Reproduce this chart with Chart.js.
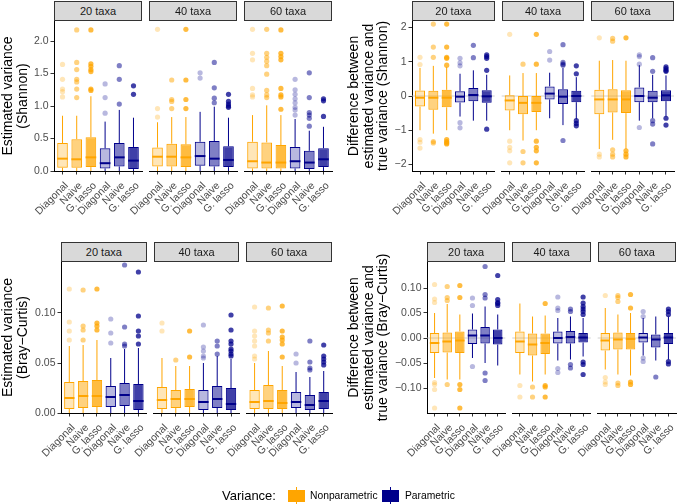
<!DOCTYPE html>
<html>
<head>
<meta charset="utf-8">
<script src="https://cdn.jsdelivr.net/npm/chart.js@4.4.1/dist/chart.umd.min.js"></script>
<style>
  html, body { margin: 0; padding: 0; background: #fff; }
  body { position: relative; width: 678px; height: 504px; overflow: hidden; font-family: 'Liberation Sans', Arial, Helvetica, sans-serif; }
  canvas { position: absolute; }
  .strip { position: absolute; box-sizing: border-box; height: 20px; background: #d9d9d9; border: 1px solid #333; color: #1a1a1a; font-size: 11px; line-height: 18px; text-align: center; z-index: 2; }
  .legend { position: absolute; top: 487px; height: 18px; line-height: 18px; color: #000; white-space: nowrap; }
  .key { position: absolute; top: 487px; width: 17px; height: 18px; }
  .key .wh { position: absolute; left: 8px; top: 0; width: 1px; height: 18px; }
  .key .bx { position: absolute; left: 0; top: 3px; width: 17px; height: 12px; }
</style>
</head>
<body>
<script>
(() => {
    'use strict';

    // ---- data: [lower whisker, Q1, median, Q3, upper whisker] per box,
    // boxes ordered Nonparametric Diagonal/Naive/G. lasso, then Parametric Diagonal/Naive/G. lasso
    const methods = ['Diagonal', 'Naive', 'G. lasso'];
    const varianceTypes = ['Nonparametric', 'Parametric'];
    const facetLabels = ['20 taxa', '40 taxa', '60 taxa'];

    const shanVarTicks = [0, 0.5, 1, 1.5, 2];
    const shanVarTickLabels = ['0.0', '0.5', '1.0', '1.5', '2.0'];
    const shanDiffTicks = [-2, -1, 0, 1, 2];
    const shanDiffTickLabels = ['\u22122', '\u22121', '0', '1', '2'];
    const bcVarTicks = [0, 0.05, 0.1];
    const bcVarTickLabels = ['0.00', '0.05', '0.10'];
    const bcDiffTicks = [-0.1, -0.05, 0, 0.05, 0.1];
    const bcDiffTickLabels = ['\u22120.10', '\u22120.05', '0.00', '0.05', '0.10'];

    const shanVar20 = [[0, 0.05, 0.19, 0.43, 0.85], [0, 0.05, 0.18, 0.49, 0.85], [0, 0.06, 0.21, 0.52, 1.15], [0, 0.04, 0.12, 0.35, 0.76], [0, 0.07, 0.21, 0.43, 0.94], [0, 0.03, 0.16, 0.37, 0.82]];
    const shanVar20Out = [[1.64, 1.41, 1.26, 1.22, 1.14], [2.17, 1.67, 1.56, 1.41, 1.37, 1.26, 1.13], [2.17, 1.65, 1.61, 1.56, 1.53, 1.26, 1.24], [1.34, 1.13, 0.89], [1.62, 1.41, 1.03], [1.31, 1.18]];
    const shanVar40 = [[0, 0.07, 0.22, 0.36, 0.75], [0, 0.07, 0.22, 0.42, 0.83], [0, 0.06, 0.21, 0.41, 0.83], [0, 0.08, 0.23, 0.45, 0.91], [0, 0.07, 0.19, 0.46, 0.99], [0, 0.06, 0.17, 0.38, 0.82]];
    const shanVar40Out = [[2.18, 0.96, 0.83], [1.40, 1.10, 1.07, 0.96], [2.18, 1.40, 1.10, 0.96], [1.51, 1.43], [1.67, 1.28, 1.12, 1.05], [1.18, 1.07, 1.03, 1.00, 0.98]];
    const shanVar60 = [[0, 0.04, 0.15, 0.45, 0.86], [0, 0.04, 0.13, 0.44, 1.01], [0, 0.04, 0.13, 0.40, 0.86], [0, 0.04, 0.15, 0.37, 0.80], [0, 0.03, 0.13, 0.31, 0.62], [0, 0.06, 0.18, 0.35, 0.68]];
    const shanVar60Out = [[2.18, 1.81, 1.71, 1.27, 1.17, 1.14], [2.18, 1.81, 1.75, 1.69, 1.62, 1.49, 1.24, 1.17, 1.13], [2.17, 1.81, 1.76, 1.71, 1.27, 1.17, 1.14, 0.95], [1.41, 1.25, 1.18, 1.11, 1.05, 0.98, 0.94, 0.86], [1.51, 1.13, 0.90, 0.86, 0.81, 0.69], [1.11, 1.08, 0.84]];

    const shanDiff20 = [[-1.00, -0.31, -0.05, 0.16, 0.82], [-1.10, -0.40, -0.05, 0.15, 0.88], [-1.00, -0.33, -0.05, 0.18, 0.85], [-0.60, -0.19, -0.02, 0.14, 0.65], [-0.72, -0.15, 0.03, 0.23, 0.75], [-0.72, -0.20, -0.01, 0.17, 0.62]];
    const shanDiff20Out = [[1.13, 0.92, -1.27, -1.35, -1.52], [2.10, 1.43, 1.13, -1.33, -1.37], [2.10, 1.43, 1.13, 1.10, 0.90, -1.27, -1.33, -1.37, -1.40], [1.10, 0.97, 0.88, -0.78, -0.93], [1.48, 1.12], [1.20, 1.15, 1.10, 0.75, -0.97]];
    const shanDiff40 = [[-1.00, -0.42, -0.13, 0.02, 0.60], [-1.30, -0.53, -0.20, 0.00, 0.67], [-1.00, -0.47, -0.20, 0.00, 0.67], [-0.65, -0.10, 0.07, 0.28, 0.68], [-0.85, -0.23, -0.02, 0.20, 0.82], [-0.68, -0.18, 0.00, 0.15, 0.55]];
    const shanDiff40Out = [[1.80, -1.32, -1.50, -1.60, -1.95], [0.93, -1.62, -1.95], [1.80, 0.93, -1.32, -1.50, -1.60, -1.95], [1.30, 1.05], [1.50, 0.98, 0.93, 0.90, -1.30], [0.88, 0.65, -0.72, -0.80, -0.87]];
    const shanDiff60 = [[-1.55, -0.53, -0.10, 0.18, 1.03], [-1.28, -0.48, -0.10, 0.20, 1.05], [-1.55, -0.50, -0.10, 0.17, 1.03], [-0.72, -0.18, 0.00, 0.25, 0.90], [-0.65, -0.18, -0.05, 0.15, 0.62], [-0.60, -0.15, 0.02, 0.17, 0.60]];
    const shanDiff60Out = [[1.70, -1.70, -1.78], [1.68, 1.60, -1.57, -1.70, -1.78], [1.70, -1.60, -1.70, -1.78], [1.20, 1.15, 0.93, -0.92], [1.12, 0.72, -0.72, -0.82, -1.40], [0.85, 0.80, 0.75, 0.72, -0.65, -0.85]];

    const bcVar20 = [[0, 0.004, 0.015, 0.031, 0.067], [0, 0.005, 0.017, 0.032, 0.068], [0, 0.006, 0.017, 0.033, 0.073], [0, 0.006, 0.016, 0.027, 0.055], [0, 0.007, 0.018, 0.030, 0.064], [0, 0.003, 0.012, 0.029, 0.065]];
    const bcVar20Out = [[0.124, 0.091, 0.082, 0.073], [0.123, 0.087, 0.083, 0.073], [0.124, 0.090, 0.087, 0.083], [0.094, 0.080, 0.070], [0.148, 0.086, 0.069, 0.067], [0.141, 0.097, 0.082, 0.077, 0.069]];
    const bcVar40 = [[0, 0.004, 0.013, 0.026, 0.055], [0, 0.005, 0.014, 0.023, 0.047], [0, 0.006, 0.014, 0.024, 0.047], [0, 0.003, 0.011, 0.023, 0.050], [0, 0.005, 0.014, 0.027, 0.057], [0, 0.003, 0.009, 0.025, 0.054]];
    const bcVar40Out = [[0.090, 0.082], [0.053], [0.082, 0.056], [0.088, 0.066, 0.062, 0.057, 0.055], [0.072, 0.067, 0.059], [0.098, 0.083, 0.072, 0.069, 0.064, 0.062, 0.059, 0.057]];
    const bcVar60 = [[0, 0.004, 0.011, 0.023, 0.050], [0, 0.004, 0.012, 0.028, 0.062], [0, 0.004, 0.010, 0.023, 0.047], [0, 0.005, 0.011, 0.021, 0.041], [0, 0.003, 0.008, 0.018, 0.036], [0, 0.004, 0.012, 0.021, 0.042]];
    const bcVar60Out = [[0.106, 0.082, 0.077, 0.072, 0.067, 0.057, 0.054], [0.105, 0.083, 0.080, 0.072], [0.107, 0.082, 0.076, 0.073, 0.069, 0.056], [0.059, 0.050], [0.072, 0.051, 0.045, 0.043], [0.068, 0.057, 0.054, 0.051, 0.048]];

    const bcDiff20 = [[-0.080, -0.030, -0.010, 0.010, 0.050], [-0.083, -0.029, -0.007, 0.011, 0.068], [-0.083, -0.030, -0.005, 0.013, 0.047], [-0.040, -0.012, 0.005, 0.017, 0.049], [-0.050, -0.011, 0.005, 0.022, 0.063], [-0.055, -0.013, 0.000, 0.017, 0.047]];
    const bcDiff20Out = [[0.107, 0.078, 0.071, -0.089, -0.093, -0.103, -0.140], [0.103, 0.081, 0.075, -0.093], [0.105, 0.081, -0.093, -0.103, -0.140], [0.080, 0.065, -0.057], [0.143, 0.087, 0.080, -0.070, -0.085], [0.125, 0.077, 0.071, 0.069, 0.065]];
    const bcDiff40 = [[-0.073, -0.030, -0.007, 0.013, 0.069], [-0.087, -0.035, -0.013, 0.009, 0.043], [-0.073, -0.032, -0.010, 0.009, 0.045], [-0.045, -0.011, 0.000, 0.013, 0.040], [-0.043, -0.011, 0.002, 0.014, 0.043], [-0.037, -0.009, 0.001, 0.010, 0.040]];
    const bcDiff40Out = [[-0.095, -0.118], [-0.098, -0.118], [0.069, -0.095, -0.098, -0.118], [0.082, 0.060, 0.055, -0.061, -0.069], [0.058, 0.053, -0.053, -0.060], [0.082, 0.070, 0.063, 0.058, 0.053, 0.047, -0.048, -0.053, -0.073]];
    const bcDiff60 = [[-0.063, -0.025, -0.005, 0.010, 0.060], [-0.073, -0.023, -0.003, 0.011, 0.047], [-0.075, -0.023, -0.002, 0.010, 0.050], [-0.035, -0.009, 0.001, 0.010, 0.040], [-0.045, -0.019, -0.003, 0.007, 0.043], [-0.043, -0.012, 0.001, 0.010, 0.043]];
    const bcDiff60Out = [[0.085, -0.079, -0.088, -0.093], [0.085, 0.081, 0.073, -0.090, -0.095], [0.087, 0.060, -0.088, -0.093], [0.053, 0.043, -0.040, -0.047], [-0.078], [0.058, 0.053, 0.047, -0.047, -0.052]];

    // ---- styling
    const FONT = "'Liberation Sans', Arial, Helvetica, sans-serif";
    const orange = [255, 165, 0];
    const navy = [0, 0, 139];
    const methodAlpha = [0.28, 0.5, 0.75];
    const boxLabels = methods.concat(methods);

    Chart.defaults.font.family = FONT;

    function rgba(c, a)
    {
        return `rgba(${c[0]},${c[1]},${c[2]},${a})`;
    }
    function boxColour(i, alpha)
    {
        return rgba(i < 3 ? orange : navy, alpha === undefined ? 1 : alpha);
    }

    // titleX: page x of the centre of the first title line
    const panels = [
        { stats: [shanVar20, shanVar40, shanVar60], outliers: [shanVar20Out, shanVar40Out, shanVar60Out], ticks: shanVarTicks, tickLabels: shanVarTickLabels,
          min: 0, max: 2.308, zero: false, title: ['Estimated variance', '(Shannon)'],
          left: 0, top: 21, bottom: 171, facets: [[54, 142], [149, 237], [244, 332]], titleX: 8.5 },
        { stats: [shanDiff20, shanDiff40, shanDiff60], outliers: [shanDiff20Out, shanDiff40Out, shanDiff60Out], ticks: shanDiffTicks, tickLabels: shanDiffTickLabels,
          min: -2.19, max: 2.19, zero: true, title: ['Difference between', 'estimated variance and', 'true variance (Shannon)'],
          left: 340, top: 21, bottom: 171, facets: [[412, 494.7], [501.7, 584.3], [591.3, 674]], titleX: 354 },
        { stats: [bcVar20, bcVar40, bcVar60], outliers: [bcVar20Out, bcVar40Out, bcVar60Out], ticks: bcVarTicks, tickLabels: bcVarTickLabels,
          min: 0, max: 0.151, zero: false, title: ['Estimated variance', '(Bray\u2212Curtis)'],
          left: 0, top: 262, bottom: 413, facets: [[61, 146.7], [153.7, 239.3], [246.3, 332]], titleX: 8.5 },
        { stats: [bcDiff20, bcDiff40, bcDiff60], outliers: [bcDiff20Out, bcDiff40Out, bcDiff60Out], ticks: bcDiffTicks, tickLabels: bcDiffTickLabels,
          min: -0.15, max: 0.152, zero: true, title: ['Difference between', 'estimated variance and', 'true variance (Bray\u2212Curtis)'],
          left: 340, top: 262, bottom: 413, facets: [[427, 505.3], [512.3, 590.7], [597.7, 676]], titleX: 354 }
    ];

    const PAD_TOP = 12;
    const X_AXIS_H = 62;
    const TITLE_LINE = 14.7;

    function makeFacet(panel, f)
    {
        const [x0, x1] = panel.facets[f];
        const first = f === 0;
        const stats = panel.stats[f];
        const cLeft = first ? panel.left : Math.floor(x0) - 40;
        const cTop = panel.top - PAD_TOP;
        const width = Math.ceil(x1) + 3 - cLeft;
        const height = PAD_TOP + (panel.bottom - panel.top) + X_AXIS_H;

        const canvas = document.createElement('canvas');
        canvas.width = width;
        canvas.height = height;
        canvas.style.left = cLeft + 'px';
        canvas.style.top = cTop + 'px';
        document.body.appendChild(canvas);

        const outPts = [];
        const outCols = [];
        panel.outliers[f].forEach((vals, i) => {
            vals.forEach(v => {
                outPts.push({ x: i, y: v });
                outCols.push(boxColour(i, methodAlpha[i % 3]));
            });
        });

        const boxLines = {
            id: 'boxLines',
            beforeDatasetsDraw(chart)
            {
                const { ctx, chartArea: a, scales: { x, y } } = chart;
                ctx.save();
                if (panel.zero) {
                    const py = y.getPixelForValue(0);
                    ctx.strokeStyle = '#c4c4c4';
                    ctx.lineWidth = 0.8;
                    ctx.beginPath();
                    ctx.moveTo(a.left, py);
                    ctx.lineTo(a.right, py);
                    ctx.stroke();
                }
                ctx.lineWidth = 1;
                stats.forEach((s, i) => {
                    const px = x.getPixelForValue(i);
                    ctx.strokeStyle = boxColour(i);
                    ctx.beginPath();
                    ctx.moveTo(px, y.getPixelForValue(s[0]));
                    ctx.lineTo(px, y.getPixelForValue(s[1]));
                    ctx.moveTo(px, y.getPixelForValue(s[3]));
                    ctx.lineTo(px, y.getPixelForValue(s[4]));
                    ctx.stroke();
                });
                ctx.restore();
            },
            afterDatasetsDraw(chart)
            {
                const { ctx, scales: { y } } = chart;
                const bars = chart.getDatasetMeta(0).data;
                ctx.save();
                ctx.lineWidth = 2;
                stats.forEach((s, i) => {
                    const bar = bars[i];
                    const py = y.getPixelForValue(s[2]);
                    ctx.strokeStyle = boxColour(i);
                    ctx.beginPath();
                    ctx.moveTo(bar.x - bar.width / 2, py);
                    ctx.lineTo(bar.x + bar.width / 2, py);
                    ctx.stroke();
                });
                ctx.restore();
            },
            afterDraw(chart)
            {
                // multi-line y title, drawn at full width (Chart.js would squeeze it to the axis height)
                if (!first) {
                    return;
                }
                const { ctx, chartArea: a } = chart;
                ctx.save();
                ctx.translate(panel.titleX - cLeft, (a.top + a.bottom) / 2);
                ctx.rotate(-Math.PI / 2);
                ctx.font = '14px ' + FONT;
                ctx.fillStyle = '#000';
                ctx.textAlign = 'center';
                ctx.textBaseline = 'middle';
                panel.title.forEach((line, k) => ctx.fillText(line, 0, k * TITLE_LINE));
                ctx.restore();
            }
        };

        const tickFont = { size: 10.5, family: FONT };
        const gridOpts = { display: true, drawOnChartArea: false, drawTicks: true, tickLength: 3.5, color: '#333', lineWidth: 1, offset: false };

        return new Chart(canvas, {
            type: 'bar',
            data: {
                datasets: [
                    {
                        type: 'bar',
                        data: stats.map((s, i) => ({ x: i, y: [s[1], s[3]] })),
                        backgroundColor: stats.map((s, i) => boxColour(i, methodAlpha[i % 3])),
                        borderColor: stats.map((s, i) => boxColour(i)),
                        borderWidth: 1,
                        borderSkipped: false,
                        barPercentage: 0.75,
                        categoryPercentage: 1
                    },
                    {
                        type: 'scatter',
                        data: outPts,
                        backgroundColor: outCols,
                        borderWidth: 0,
                        pointRadius: 2.6,
                        pointHoverRadius: 2.6
                    }
                ]
            },
            options: {
                responsive: false,
                animation: false,
                events: [],
                layout: { padding: { left: first ? 0 : x0 - cLeft, right: width - (x1 - cLeft), top: PAD_TOP, bottom: 0 } },
                plugins: { legend: { display: false }, tooltip: { enabled: false } },
                scales: {
                    x: {
                        type: 'linear', min: -0.6, max: 5.6, offset: false, bounds: 'data',
                        afterBuildTicks: s => { s.ticks = boxLabels.map((_, i) => ({ value: i })); },
                        afterFit: s => { s.height = X_AXIS_H; s.paddingLeft = 0; s.paddingRight = 0; },
                        ticks: { autoSkip: false, minRotation: 45, maxRotation: 45, padding: 5, labelOffset: 4, color: '#4d4d4d', font: tickFont,
                                 callback: (v, i) => boxLabels[i] },
                        grid: gridOpts,
                        border: { display: true, color: '#000', width: 1 }
                    },
                    y: {
                        display: first, min: panel.min, max: panel.max, bounds: 'data',
                        afterBuildTicks: s => { s.ticks = panel.ticks.map(v => ({ value: v })); },
                        afterFit: s => {
                            s.width = first ? x0 - cLeft : 0;
                            s.paddingTop = 0;
                            s.paddingBottom = 0;
                        },
                        ticks: { padding: 2, color: '#4d4d4d', font: tickFont, callback: (v, i) => panel.tickLabels[i] },
                        grid: gridOpts,
                        border: { display: true, color: '#000', width: 1 },
                        title: { display: false }
                    }
                }
            },
            plugins: [boxLines]
        });
    }

    function addStrip(text, x0, x1, top)
    {
        const d = document.createElement('div');
        d.className = 'strip';
        d.textContent = text;
        d.style.left = x0 + 'px';
        d.style.width = (x1 - x0) + 'px';
        d.style.top = top + 'px';
        document.body.appendChild(d);
    }

    panels.forEach(panel => {
        panel.facets.forEach(([x0, x1], f) => {
            makeFacet(panel, f);
            addStrip(facetLabels[f], x0, x1, panel.top - 20);
        });
    });

    // legend
    function addText(text, left, size)
    {
        const s = document.createElement('div');
        s.className = 'legend';
        s.textContent = text;
        s.style.left = left + 'px';
        s.style.fontSize = size + 'px';
        document.body.appendChild(s);
    }
    function addKey(left, colour)
    {
        const k = document.createElement('div');
        k.className = 'key';
        k.style.left = left + 'px';
        k.innerHTML = `<div class="wh" style="background:${colour}"></div><div class="bx" style="background:${colour}"></div>`;
        document.body.appendChild(k);
    }
    addText('Variance:', 222, 13);
    addKey(288, rgba(orange, 1));
    addText(varianceTypes[0], 310, 10.3);
    addKey(382, rgba(navy, 1));
    addText(varianceTypes[1], 405, 10.3);
})();
</script>
</body>
</html>
